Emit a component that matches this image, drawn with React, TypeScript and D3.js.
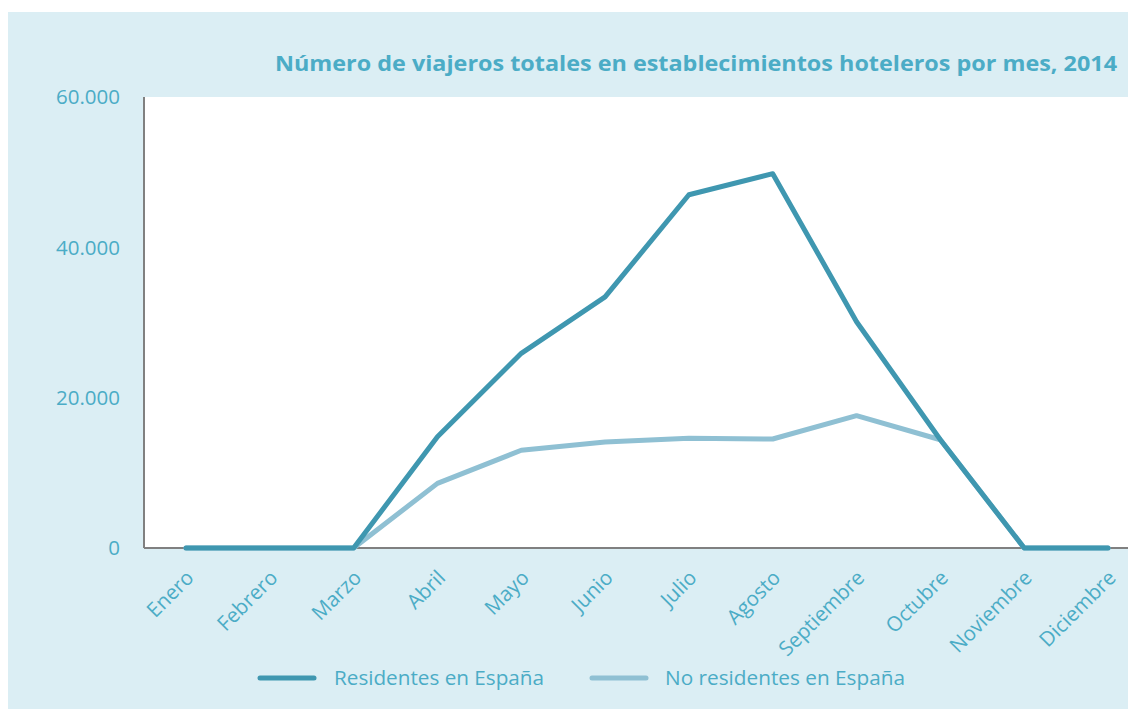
import React from "react";
import * as d3 from "d3";

const months = ["Enero","Febrero","Marzo","Abril","Mayo","Junio","Julio","Agosto","Septiembre","Octubre","Noviembre","Diciembre"];
const residentes = [0,0,0,14800,25900,33400,47000,49800,30100,14400,0,0];
const noResidentes = [0,0,0,8600,13000,14100,14600,14500,17600,14400,0,0];
const yTicks = [0,20000,40000,60000];
const seriesNames = ["Residentes en España","No residentes en España"];
const title = "Número de viajeros totales en establecimientos hoteleros por mes, 2014";

const W = 1128, H = 701;
const BG = "#dbeef4";
const TXT = "#4bacc6";
const C1 = "#3f97b0";
const C2 = "#8fc0d3";
const FONT = "'Open Sans', sans-serif";

export default function App() {
  // svg origin is at page (8,8)
  const x = d3.scalePoint<string>().domain(months).range([178, 1100]);
  const y = d3.scaleLinear().domain([0, 60000]).range([540, 89]);
  const line = d3.line<number>().x((_, i) => x(months[i])!).y(d => y(d));
  const fmt = (v: number) => v === 0 ? "0" : d3.format(",")(v).replace(/,/g, ".");
  return (
    <svg width={W} height={H} style={{ display: "block" }} fontFamily={FONT}>
      <rect x={0} y={4} width={W} height={H - 4} fill={BG} />
      <rect x={136} y={89} width={W - 136} height={451} fill="white" />
      <text x={1109} y={63} textAnchor="end" fill={TXT} fontSize={21.5} fontWeight="bold" textLength={842} lengthAdjust="spacingAndGlyphs">{title}</text>
      {yTicks.map(t => (
        <text key={t} x={112} y={y(t)} dy="0.35em" textAnchor="end" fill={TXT} fontSize={20.5}>{fmt(t)}</text>
      ))}
      <line x1={136} x2={136} y1={89} y2={540} stroke="#808080" strokeWidth={2} />
      <line x1={136} x2={W} y1={540} y2={540} stroke="#808080" strokeWidth={2} />
      <path d={line(noResidentes)!} fill="none" stroke={C2} strokeWidth={5} strokeLinecap="round" strokeLinejoin="round" />
      <path d={line(residentes)!} fill="none" stroke={C1} strokeWidth={5} strokeLinecap="round" strokeLinejoin="round" />
      {months.map(m => (
        <text key={m} transform={`translate(${x(m)! + 4},${566}) rotate(-45)`} textAnchor="end" fill={TXT} fontSize={20.5} dy="0.35em">{m}</text>
      ))}
      <line x1={252} x2={306} y1={670} y2={670} stroke={C1} strokeWidth={5} strokeLinecap="round" />
      <text x={326} y={670} dy="0.35em" fill={TXT} fontSize={20} textLength={210} lengthAdjust="spacingAndGlyphs">{seriesNames[0]}</text>
      <line x1={584} x2={638} y1={670} y2={670} stroke={C2} strokeWidth={5} strokeLinecap="round" />
      <text x={657} y={670} dy="0.35em" fill={TXT} fontSize={20} textLength={240} lengthAdjust="spacingAndGlyphs">{seriesNames[1]}</text>
    </svg>
  );
}
